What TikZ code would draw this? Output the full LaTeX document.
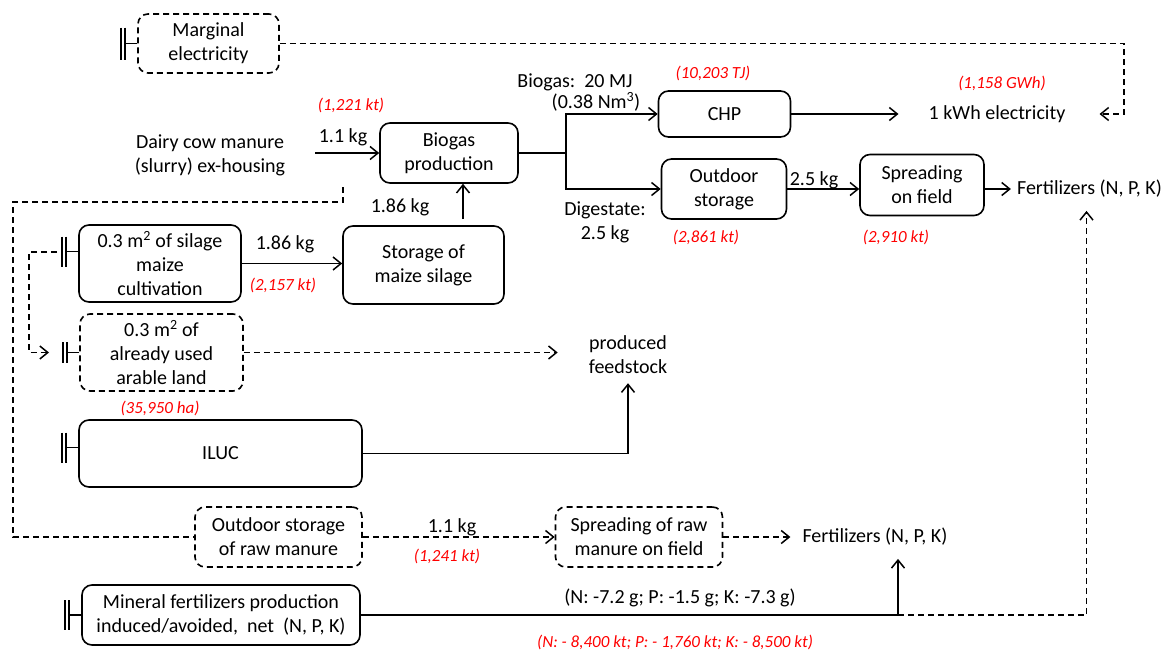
\documentclass[tikz,border=0pt]{standalone}
\usepackage{fontspec}
\setmainfont{Carlito}
\usepackage{tikz}
\usetikzlibrary{arrows.meta, positioning}

\definecolor{numred}{RGB}{255,0,0}

\tikzset{
  txt/.style={inner sep=1pt, align=center, font=\fontsize{20}{24}\selectfont},
  box/.style={txt, draw, line width=1.6pt, rounded corners=10pt, inner sep=0pt},
  dbox/.style={box, dash pattern=on 6pt off 4pt},
  num/.style={inner sep=1pt, text=numred, font=\fontsize{17}{20}\selectfont\itshape},
  flow/.style={line width=1.6pt},
  arr/.style={flow, -{Straight Barb[length=8pt, width=13pt, line width=1.5pt]}},
  dline/.style={flow, dash pattern=on 6pt off 4pt},
  darr/.style={arr, dash pattern=on 6pt off 4pt},
  pics/cutoff/.style={code={
    \draw[flow, solid] (0,0) -- (-12,0) (-12,-#1) -- (-12,#1) (-16,-#1) -- (-16,#1);}},
  pics/cutoff/.default=15
}

\begin{document}
\begin{tikzpicture}[x=1pt, y=-1pt]
\useasboundingbox (0,0) rectangle (1167,653);

% processes
\node (marg) [dbox, minimum width=141pt, minimum height=59pt] at (208.5,43.5) {Marginal\\electricity};
\node (biogas) [box, minimum width=138pt, minimum height=60pt] at (449,153) {Biogas\\production};
\node (chp) [box, minimum width=132pt, minimum height=46pt] at (724.5,114) {CHP};
\node (outdoor) [box, minimum width=125pt, minimum height=60pt] at (724,189) {Outdoor\\storage};
\node (spread) [box, minimum width=124pt, minimum height=61pt] at (922,185) {Spreading\\on field};
\node (silage) [box, minimum width=162pt, minimum height=77pt] at (160,263.5) {0.3 m\textsuperscript{2} of silage\\maize\\cultivation};
\node (storage) [box, minimum width=161pt, minimum height=78pt] at (423.5,265) {Storage of\\maize silage};
\node (arable) [dbox, minimum width=163pt, minimum height=77pt] at (161.5,352.5) {0.3 m\textsuperscript{2} of\\already used\\arable land};
\node (iluc) [box, minimum width=283pt, minimum height=67pt] at (220.5,453.5) {ILUC};
\node (rawstore) [dbox, minimum width=167pt, minimum height=60pt] at (278.5,537) {Outdoor storage\\of raw manure};
\node (rawspread) [dbox, minimum width=167pt, minimum height=60pt] at (639,537) {Spreading of raw\\manure on field};
\node (mineral) [box, minimum width=278pt, minimum height=60pt] at (221,615) {Mineral fertilizers production\\induced/avoided,\ \ net\ \ (N, P, K)};

% flows in and out
\node (dairy) [txt] at (210,155) {Dairy cow manure\\(slurry) ex-housing};
\node (elec) [txt] at (997,114) {1 kWh electricity};
\node (fert1) [txt] at (1089.5,189) {Fertilizers (N, P, K)};
\node (feed) [txt] at (628,355) {produced\\feedstock};
\node (fert2) [txt] at (875,537) {Fertilizers (N, P, K)};

% amounts
\node (dairykg) [txt] at (343,137) {1.1 kg};
\node (dairynum) [num] at (351,105) {(1,221 kt)};
\node (gaslab) [txt] at (575,82) {Biogas:\ \ 20 MJ};
\node (gasvol) [txt] at (596,102) {(0.38 Nm\textsuperscript{3})};
\node (chpnum) [num] at (713,73) {(10,203 TJ)};
\node (elecnum) [num] at (1002,83) {(1,158 GWh)};
\node (diglab) [txt] at (605,222.5) {Digestate:\\2.5 kg};
\node (digkg) [txt] at (814,180) {2.5 kg};
\node (outnum) [num] at (706,237) {(2,861 kt)};
\node (spreadnum) [num] at (896,237) {(2,910 kt)};
\node (silokg) [txt] at (400,207) {1.86 kg};
\node (silagekg) [txt] at (285,244) {1.86 kg};
\node (silagenum) [num] at (283,285) {(2,157 kt)};
\node (arablenum) [num] at (160,408) {(35,950 ha)};
\node (rawkg) [txt] at (452,527) {1.1 kg};
\node (rawnum) [num] at (447,556) {(1,241 kt)};
\node (minlab) [txt] at (680,598) {(N: -7.2 g; P: -1.5 g; K: -7.3 g)};
\node (minnum) [num] at (675,642) {(N: - 8,400 kt; P: - 1,760 kt; K: - 8,500 kt)};

% cut-off marks
\pic at (marg.west) {cutoff=16};
\pic at ([yshift=12pt]silage.west) {cutoff};
\pic at (arable.west) {cutoff=10.5};
\pic at ([yshift=6pt]iluc.west) {cutoff};
\pic at (mineral.west) {cutoff};

\coordinate (fork) at (566,153);
\coordinate (dsplit) at (343,187);
\coordinate (dleft) at (13,202);
\coordinate (gsil) at (57,252);
\coordinate (gara) at (49,352.5);
\coordinate (xgnd) at (29,0);
\coordinate (xjoin) at (898,0);
\coordinate (mjoin) at (mineral.east -| xjoin);
\coordinate (eleccorner) at (1124,43.5);

\draw[arr, shorten <=29pt] (dairy.east |- biogas.west) -- (biogas.west);
\draw[flow] (biogas.east) -- (fork);
\draw[arr] (fork) |- (chp.west);
\draw[arr] (fork) |- (outdoor.west);
\draw[arr, shorten >=29pt] (chp.east) -- (chp.east -| elec.west);
\draw[arr] (outdoor.east) -- (outdoor.east -| spread.west);
\draw[arr, shorten >=5pt] (spread.east |- fert1.west) -- (fert1.west);
\draw[arr, shorten <=6pt] ([xshift=39.5pt]storage.north) -- ([xshift=39.5pt]storage.north |- biogas.south);
\draw[arr] (silage.east) -- (silage.east -| storage.west);
\draw[darr, shorten >=30pt] (arable.east) -- (arable.east -| feed.west);
\draw[arr, shorten >=8pt] (iluc.east) -| (feed.south);
\draw[darr] (rawstore.east) -- (rawspread.west);
\draw[darr, shorten >=11pt] (rawspread.east) -- (fert2.west);
\draw[flow] (mineral.east) -- (mjoin);
\draw[arr, shorten >=12pt] (mjoin) -- (mjoin |- fert2.south);
\draw[darr, shorten >=12pt] (mjoin) -| ([xshift=-3pt]fert1.south);
\draw[darr, shorten >=33pt] (marg.east) -- (eleccorner) |- (elec.east);
\draw[dline] (dsplit) |- (dleft) |- (rawstore.west);
\draw[darr] (gsil) -- (gsil -| xgnd) |- (gara);
\end{tikzpicture}
\end{document}
